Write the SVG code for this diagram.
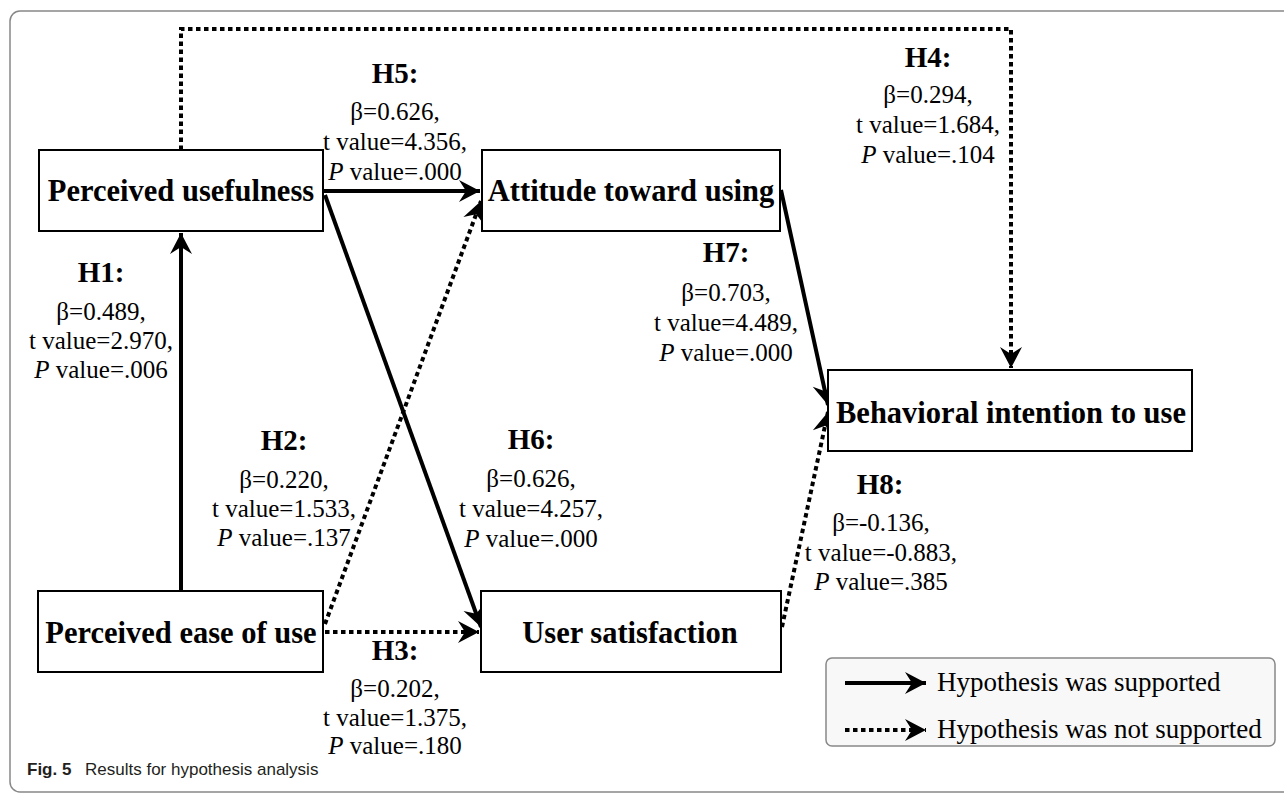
<svg xmlns="http://www.w3.org/2000/svg" width="1284" height="797" viewBox="0 0 1284 797">
<style>
.node rect{fill:#fff;stroke:#000;stroke-width:2}
.nt{font-family:"Liberation Serif","Times New Roman",serif;font-weight:bold;font-size:30.5px;text-anchor:middle;fill:#000}
.hl{font-family:"Liberation Serif","Times New Roman",serif;font-weight:bold;font-size:29px;text-anchor:middle;fill:#000}
.lb{font-family:"Liberation Serif","Times New Roman",serif;font-size:25px;text-anchor:middle;fill:#000}
.lg{font-family:"Liberation Serif","Times New Roman",serif;font-size:27px;fill:#000}
.solid{fill:none;stroke:#000;stroke-width:4;marker-end:url(#ah)}
.dot{fill:none;stroke:#000;stroke-width:4;stroke-dasharray:4.5 3.5;marker-end:url(#ah)}
.cap{font-family:"Liberation Sans",Arial,sans-serif;font-size:17px;fill:#231f20}
</style>
<defs>
<marker id="ah" markerUnits="userSpaceOnUse" markerWidth="26" markerHeight="26" viewBox="-22 -13 26 26" refX="0" refY="0" orient="auto">
<path d="M0,0 L-21,-11 L-14,0 L-21,11 Z" fill="#000"/>
</marker>
</defs>
<rect x="10" y="11" width="1300" height="781" rx="10" fill="#fff" stroke="#888" stroke-width="1.5"/>
<g id="connectors">
<path id="h1" class="solid" d="M181,591 L181,233"/>
<path id="h5" class="solid" d="M323,191 L480,191"/>
<path id="h6" class="solid" d="M325,195 L481,627"/>
<path id="h2" class="dot" d="M325,624 L481,201"/>
<path id="h3" class="dot" d="M325,632 L479,632"/>
<path id="h4" class="dot" d="M181,150 L181,29 L1011,29 L1011,368"/>
<path id="h7" class="solid" d="M781,190 L828,405"/>
<path id="h8" class="dot" d="M782,627 L828,412"/>
</g>
<g id="pu" class="node"><rect x="39" y="150" width="284" height="81"/><text class="nt" x="181" y="201">Perceived usefulness</text></g>
<g id="atu" class="node"><rect x="482" y="150" width="298" height="81"/><text class="nt" x="631" y="201">Attitude toward using</text></g>
<g id="biu" class="node"><rect x="828" y="370" width="364" height="81"/><text class="nt" x="1011" y="423">Behavioral intention to use</text></g>
<g id="peou" class="node"><rect x="38" y="591" width="285" height="81"/><text class="nt" x="181" y="643">Perceived ease of use</text></g>
<g id="us" class="node"><rect x="481" y="591" width="300" height="81"/><text class="nt" x="630" y="643">User satisfaction</text></g>
<g id="labels">
<g id="l1"><text class="hl" x="101" y="282">H1:</text><text class="lb" x="101" y="320">β=0.489,</text><text class="lb" x="101" y="349">t value=2.970,</text><text class="lb" x="101" y="378"><tspan font-style="italic">P</tspan> value=.006</text></g>
<g id="l2"><text class="hl" x="284" y="450">H2:</text><text class="lb" x="284" y="488">β=0.220,</text><text class="lb" x="284" y="517">t value=1.533,</text><text class="lb" x="284" y="546"><tspan font-style="italic">P</tspan> value=.137</text></g>
<g id="l3"><text class="hl" x="395" y="660">H3:</text><text class="lb" x="395" y="697">β=0.202,</text><text class="lb" x="395" y="726">t value=1.375,</text><text class="lb" x="395" y="754"><tspan font-style="italic">P</tspan> value=.180</text></g>
<g id="l4"><text class="hl" x="928" y="67">H4:</text><text class="lb" x="928" y="103">β=0.294,</text><text class="lb" x="928" y="133">t value=1.684,</text><text class="lb" x="928" y="163"><tspan font-style="italic">P</tspan> value=.104</text></g>
<g id="l5"><text class="hl" x="395" y="83">H5:</text><text class="lb" x="395" y="120">β=0.626,</text><text class="lb" x="395" y="150">t value=4.356,</text><text class="lb" x="395" y="180"><tspan font-style="italic">P</tspan> value=.000</text></g>
<g id="l6"><text class="hl" x="531" y="449">H6:</text><text class="lb" x="531" y="487">β=0.626,</text><text class="lb" x="531" y="517">t value=4.257,</text><text class="lb" x="531" y="547"><tspan font-style="italic">P</tspan> value=.000</text></g>
<g id="l7"><text class="hl" x="726" y="262">H7:</text><text class="lb" x="726" y="301">β=0.703,</text><text class="lb" x="726" y="331">t value=4.489,</text><text class="lb" x="726" y="361"><tspan font-style="italic">P</tspan> value=.000</text></g>
<g id="l8"><text class="hl" x="880" y="494">H8:</text><text class="lb" x="881" y="531">β=-0.136,</text><text class="lb" x="881" y="561">t value=-0.883,</text><text class="lb" x="881" y="590"><tspan font-style="italic">P</tspan> value=.385</text></g>
</g>
<g id="legend">
<rect x="826" y="658" width="449" height="88" rx="6" fill="#f8f8f8" stroke="#888" stroke-width="1.5"/>
<path class="solid" d="M845,683 L926,683"/>
<path class="dot" d="M845,730 L926,730"/>
<text class="lg" x="937" y="691">Hypothesis was supported</text>
<text class="lg" x="937" y="738">Hypothesis was not supported</text>
</g>
<g id="caption">
<text class="cap" x="27" y="775"><tspan font-weight="bold">Fig. 5</tspan><tspan x="85">Results for hypothesis analysis</tspan></text>
</g>
</svg>
